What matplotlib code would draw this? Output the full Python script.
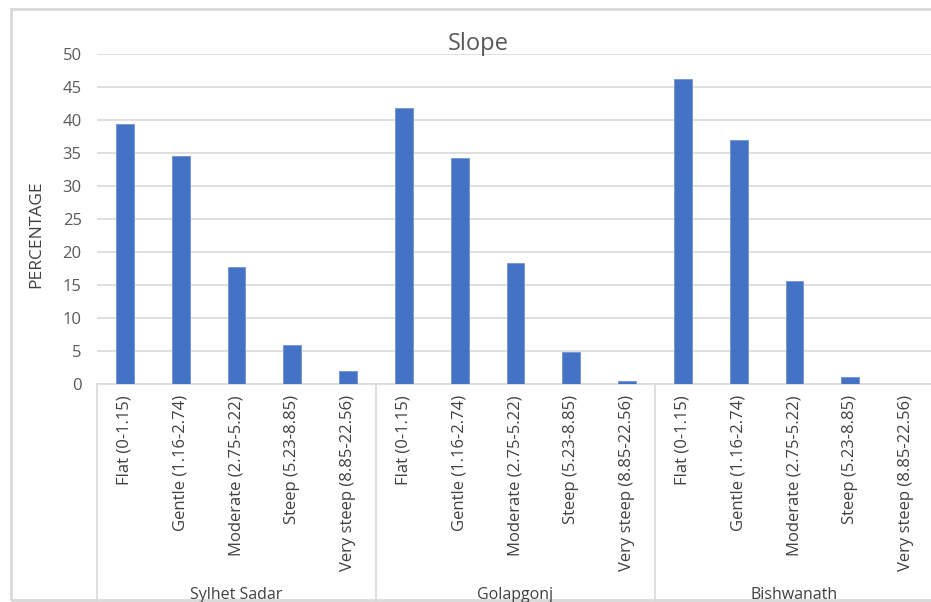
import numpy as np
import matplotlib.pyplot as plt
from matplotlib.lines import Line2D
from matplotlib.patches import Rectangle

# data
groups = ['Sylhet Sadar', 'Golapgonj', 'Bishwanath']
classes = ['Flat (0-1.15)', 'Gentle (1.16-2.74)', 'Moderate (2.75-5.22)',
           'Steep (5.23-8.85)', 'Very steep (8.85-22.56)']
sylhet = [39.4, 34.6, 17.7, 5.95, 1.9]
golapgonj = [41.8, 34.2, 18.3, 4.9, 0.4]
bishwanath = [46.2, 36.9, 15.6, 1.0, 0.0]

W, H = 931, 602
grey = '#595959'
line_grey = '#d9d9d9'

def fx(x):
    return x / W

def fy(y):
    return 1 - y / H

fig = plt.figure(figsize=(W / 100, H / 100), dpi=100)
plt.rcParams['font.family'] = ['Open Sans', 'DejaVu Sans']

# outer chart frame
fig.patches.append(Rectangle((fx(11), fy(600)), fx(940) - fx(11), fy(9) - fy(600),
                             transform=fig.transFigure, fill=False,
                             edgecolor=line_grey, linewidth=2))

ax = fig.add_axes([fx(97), fy(384), fx(934) - fx(97), fy(54) - fy(384)])

values = sylhet + golapgonj + bishwanath
labels = classes * len(groups)
x = np.arange(len(values))
ax.bar(x, values, width=0.32, color='#4472C4', edgecolor='#6f93d6', linewidth=0.6, zorder=3)

ax.set_xlim(-0.5, len(values) - 0.5)
ax.set_ylim(0, 50)
ax.set_yticks(range(0, 51, 5))
ax.grid(axis='y', color=line_grey, linewidth=1.2, zorder=0)
for s in ['top', 'right', 'left']:
    ax.spines[s].set_visible(False)
ax.spines['bottom'].set_color(line_grey)
ax.spines['bottom'].set_linewidth(1.2)

ax.set_xticks(x)
ax.set_xticklabels(labels, rotation=90, fontsize=12, color='#404040')
ax.tick_params(axis='x', length=0, pad=8)
ax.tick_params(axis='y', length=0, pad=11, labelsize=12, labelcolor=grey)

# y label sits a little below the middle of the axis in the reference
fig.text(fx(36.5), fy(234), 'PERCENTAGE', rotation=90, ha='center', va='center',
         fontsize=12.5, color='#404040')

fig.text(fx(478), fy(44), 'Slope', ha='center', va='center', fontsize=17, color=grey)

# group separators below the axis
for xs in [97, 376, 655, 934]:
    fig.lines.append(Line2D([fx(xs), fx(xs)], [fy(384), fy(602)],
                            transform=fig.transFigure, color=line_grey, linewidth=1.2))

for i, g in enumerate(groups):
    xc = 97 + 279 * i + 139.5
    fig.text(fx(xc), fy(587), g, ha='center', va='top', fontsize=11.5, color='#404040')

plt.savefig('out.png', dpi=100)
